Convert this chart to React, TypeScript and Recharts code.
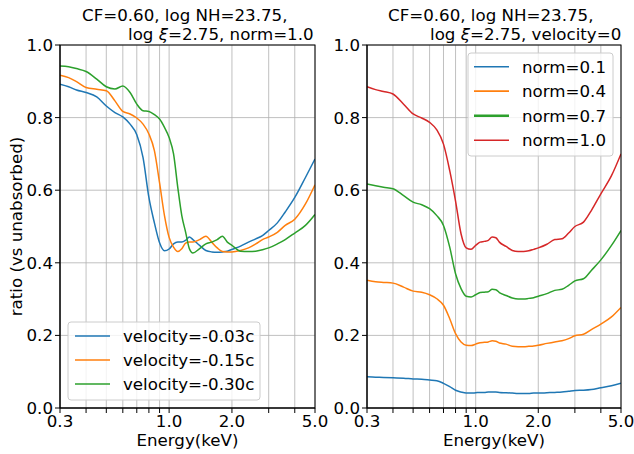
import React from "react";
import { LineChart, Line, XAxis, YAxis, CartesianGrid } from "recharts";

const energy = [0.3, 0.33, 0.36, 0.4, 0.45, 0.5, 0.55, 0.6, 0.65, 0.7, 0.75, 0.8, 0.85, 0.9, 0.95, 1.0, 1.05, 1.1, 1.15, 1.2, 1.25, 1.3, 1.4, 1.5, 1.6, 1.7, 1.8, 1.9, 2.0, 2.2, 2.4, 2.6, 2.8, 3.0, 3.3, 3.6, 4.0, 4.5, 5.0];

// left panel: velocity series
const vel003 = [0.892, 0.885, 0.876, 0.869, 0.857, 0.832, 0.814, 0.802, 0.782, 0.753, 0.69, 0.58, 0.51, 0.455, 0.433, 0.438, 0.452, 0.457, 0.457, 0.462, 0.471, 0.464, 0.448, 0.434, 0.43, 0.429, 0.43, 0.432, 0.437, 0.446, 0.457, 0.466, 0.475, 0.489, 0.51, 0.54, 0.58, 0.635, 0.686];
const vel015 = [0.917, 0.91, 0.899, 0.883, 0.878, 0.874, 0.846, 0.817, 0.81, 0.799, 0.782, 0.755, 0.709, 0.62, 0.53, 0.47, 0.443, 0.431, 0.439, 0.454, 0.457, 0.457, 0.464, 0.473, 0.457, 0.441, 0.431, 0.43, 0.43, 0.434, 0.441, 0.452, 0.464, 0.471, 0.484, 0.503, 0.52, 0.562, 0.615];
const vel030 = [0.942, 0.94, 0.935, 0.927, 0.906, 0.885, 0.879, 0.887, 0.869, 0.837, 0.819, 0.817, 0.808, 0.796, 0.773, 0.745, 0.7, 0.608, 0.53, 0.484, 0.439, 0.427, 0.439, 0.452, 0.457, 0.464, 0.473, 0.457, 0.448, 0.432, 0.431, 0.432, 0.436, 0.441, 0.452, 0.464, 0.482, 0.503, 0.533];

// right panel: norm series
const norm01 = [0.086, 0.085, 0.084, 0.083, 0.082, 0.08, 0.079, 0.077, 0.075, 0.068, 0.059, 0.049, 0.044, 0.041, 0.041, 0.042, 0.043, 0.043, 0.044, 0.044, 0.044, 0.043, 0.042, 0.041, 0.04, 0.04, 0.04, 0.041, 0.041, 0.042, 0.043, 0.044, 0.046, 0.048, 0.049, 0.051, 0.056, 0.061, 0.068];
const norm04 = [0.352, 0.348, 0.346, 0.344, 0.333, 0.322, 0.319, 0.312, 0.301, 0.283, 0.246, 0.205, 0.182, 0.173, 0.172, 0.176, 0.18, 0.181, 0.182, 0.185, 0.184, 0.179, 0.176, 0.17, 0.169, 0.169, 0.17, 0.171, 0.173, 0.178, 0.182, 0.185, 0.191, 0.199, 0.203, 0.216, 0.231, 0.251, 0.277];
const norm07 = [0.617, 0.612, 0.608, 0.604, 0.585, 0.567, 0.56, 0.549, 0.53, 0.503, 0.443, 0.37, 0.329, 0.308, 0.306, 0.312, 0.318, 0.319, 0.32, 0.327, 0.326, 0.318, 0.31, 0.303, 0.3, 0.3, 0.302, 0.304, 0.308, 0.315, 0.324, 0.327, 0.338, 0.35, 0.356, 0.379, 0.408, 0.448, 0.489];
const norm10 = [0.885, 0.877, 0.872, 0.865, 0.837, 0.81, 0.799, 0.787, 0.766, 0.727, 0.654, 0.57, 0.48, 0.441, 0.437, 0.448, 0.457, 0.459, 0.462, 0.471, 0.469, 0.457, 0.445, 0.434, 0.431, 0.431, 0.433, 0.437, 0.441, 0.451, 0.464, 0.466, 0.482, 0.5, 0.512, 0.544, 0.59, 0.64, 0.7];

const xTicks = [0.3, 0.4, 0.5, 0.6, 0.7, 0.8, 0.9, 1, 2, 3, 4, 5];
const xMajor = [0.3, 1, 2, 5];
const xMajorLabels = ["0.3", "1.0", "2.0", "5.0"];
const yTicks = [0, 0.2, 0.4, 0.6, 0.8, 1.0];

const leftNames = ["velocity=-0.03c", "velocity=-0.15c", "velocity=-0.30c"];
const rightNames = ["norm=0.1", "norm=0.4", "norm=0.7", "norm=1.0"];
const COLORS = ["#1f77b4", "#ff7f0e", "#2ca02c", "#d62728"];

const leftData = energy.map((e, i) => ({ e, a: vel003[i], b: vel015[i], c: vel030[i] }));
const rightData = energy.map((e, i) => ({ e, a: norm01[i], b: norm04[i], c: norm07[i], d: norm10[i] }));

const FONT = "DejaVu Sans";
const FS = 16.67;

const XTick = (props: any) => {
  const { x, y, payload } = props;
  const idx = xMajor.findIndex((m) => Math.abs(m - payload.value) < 1e-6);
  if (idx < 0) return null;
  return (
    <text x={x} y={y} dy="0.71em" textAnchor="middle" fontSize={FS} fontFamily={FONT} fill="#000">
      {xMajorLabels[idx]}
    </text>
  );
};

const Panel = ({ data, keys, w, ml, mr }: { data: any[]; keys: string[]; w: number; ml: number; mr: number }) => (
  <LineChart width={w} height={454} data={data} margin={{ top: 45, right: mr, bottom: 16, left: ml }}>
    <CartesianGrid stroke="#b0b0b0" strokeWidth={0.8} />
    <XAxis
      dataKey="e"
      type="number"
      scale="log"
      domain={[0.3, 5]}
      allowDataOverflow
      ticks={xTicks}
      interval={0}
      tick={<XTick />}
      tickSize={5}
      tickMargin={2}
      height={30}
      stroke="#000"
      tickLine={{ stroke: "#000" }}
    />
    <YAxis
      type="number"
      domain={[0, 1]}
      ticks={yTicks}
      interval={0}
      tickFormatter={(v: number) => v.toFixed(1)}
      tick={{ fontSize: FS, fontFamily: FONT, fill: "#000" }}
      tickSize={5}
      tickMargin={2}
      width={50}
      stroke="#000"
      tickLine={{ stroke: "#000" }}
    />
    {keys.map((k, i) => (
      <Line key={k} dataKey={k} type="monotone" stroke={COLORS[i]} strokeWidth={1.5} dot={false} isAnimationActive={false} />
    ))}
  </LineChart>
);

export default function App() {
  const txt = { fontSize: FS, fontFamily: FONT, fill: "#000" } as any;
  return (
    <div style={{ position: "absolute", left: 0, top: 0, width: 634, height: 454, background: "#fff" }}>
      <div style={{ position: "absolute", left: 0, top: 0 }}>
        <Panel data={leftData} keys={["a", "b", "c"]} w={340} ml={10} mr={25} />
      </div>
      <div style={{ position: "absolute", left: 317, top: 0 }}>
        <Panel data={rightData} keys={["a", "b", "c", "d"]} w={317} ml={0} mr={13} />
      </div>
      <svg width={634} height={454} style={{ position: "absolute", left: 0, top: 0, pointerEvents: "none" }}>
        {/* frames */}
        <rect x={60} y={45} width={255} height={363} fill="none" stroke="#000" strokeWidth={1} />
        <rect x={367} y={45} width={254} height={363} fill="none" stroke="#000" strokeWidth={1} />
        {/* titles */}
        <text x={82} y={21} {...txt}>CF=0.60, log NH=23.75,</text>
        <text x={128} y={40} {...txt}>log <tspan fontStyle="italic">ξ</tspan>=2.75, norm=1.0</text>
        <text x={388} y={21} {...txt}>CF=0.60, log NH=23.75,</text>
        <text x={430} y={40} {...txt}>log <tspan fontStyle="italic">ξ</tspan>=2.75, velocity=0</text>
        {/* axis labels */}
        <text x={187.5} y={446} textAnchor="middle" {...txt}>Energy(keV)</text>
        <text x={494} y={446} textAnchor="middle" {...txt}>Energy(keV)</text>
        <text x={22} y={226.5} textAnchor="middle" transform="rotate(-90 22 226.5)" {...txt}>ratio (vs unabsorbed)</text>
        {/* left legend */}
        <rect x={68} y={322} width={192} height={78} rx={3} fill="#fff" fillOpacity={0.8} stroke="#cccccc" />
        {leftNames.map((n, i) => (
          <g key={n}>
            <line x1={75} x2={110} y1={336 + i * 24} y2={336 + i * 24} stroke={COLORS[i]} strokeWidth={1.5} />
            <text x={123} y={336 + i * 24} dy="0.36em" {...txt}>{n}</text>
          </g>
        ))}
        {/* right legend */}
        <rect x={468} y={53} width={145} height={103} rx={3} fill="#fff" fillOpacity={0.8} stroke="#cccccc" />
        {rightNames.map((n, i) => (
          <g key={n}>
            <line x1={474} x2={509} y1={66.7 + i * 24.5} y2={66.7 + i * 24.5} stroke={COLORS[i]} strokeWidth={i === 2 ? 2.4 : i === 1 ? 1.8 : 1.5} />
            <text x={522} y={66.7 + i * 24.5} dy="0.36em" {...txt}>{n}</text>
          </g>
        ))}
      </svg>
    </div>
  );
}
